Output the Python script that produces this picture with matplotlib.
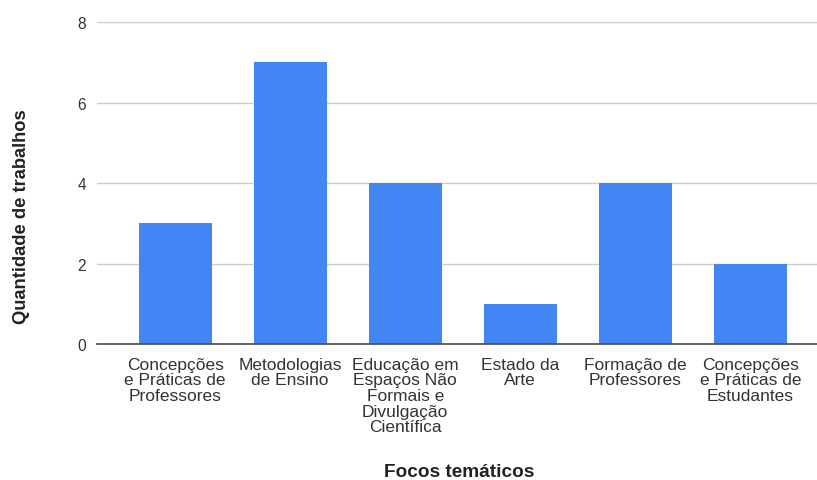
import matplotlib
matplotlib.use("Agg")
import matplotlib.pyplot as plt

categorias = [
    "Concepções\ne Práticas de\nProfessores",
    "Metodologias\nde Ensino",
    "Educação em\nEspaços Não\nFormais e\nDivulgação\nCientífica",
    "Estado da\nArte",
    "Formação de\nProfessores",
    "Concepções\ne Práticas de\nEstudantes",
]
quantidades = [3, 7, 4, 1, 4, 2]
y_ticks = [0, 2, 4, 6, 8]

plt.rcParams["font.family"] = ["Liberation Sans", "DejaVu Sans"]

fig = plt.figure(figsize=(8.17, 4.81), dpi=100)
ax = fig.add_axes([0.1187, 0.2827, 0.8813, 0.6693])

x = list(range(len(categorias)))
ax.bar(x, quantidades, width=0.634, color="#4285F4", zorder=3)

ax.set_xlim(-0.68, 5.58)
ax.set_ylim(0, 8)
ax.set_yticks(y_ticks)
ax.set_yticklabels([str(t) for t in y_ticks])
ax.set_xticks(x)
ax.set_xticklabels(categorias, linespacing=1.06, va="top")

ax.grid(axis="y", color="#cccccc", linewidth=1, zorder=0)
for s in ["top", "right", "left"]:
    ax.spines[s].set_visible(False)
ax.spines["bottom"].set_color("#555555")
ax.spines["bottom"].set_linewidth(1.3)
ax.spines["bottom"].set_zorder(4)

ax.tick_params(axis="both", length=0, colors="#333333")
ax.tick_params(axis="y", pad=8, labelsize=11.2)
ax.tick_params(axis="x", pad=9, labelsize=12.5)

ax.set_ylabel("Quantidade de trabalhos", fontsize=13.2, fontweight="bold", color="#222222")
ax.yaxis.set_label_coords(-0.093, 0.40)
fig.text(0.5618, 0.0083, "Focos temáticos", fontsize=13.7, fontweight="bold",
         color="#222222", ha="center", va="baseline")

fig.savefig("out.png", dpi=100, facecolor="white")
